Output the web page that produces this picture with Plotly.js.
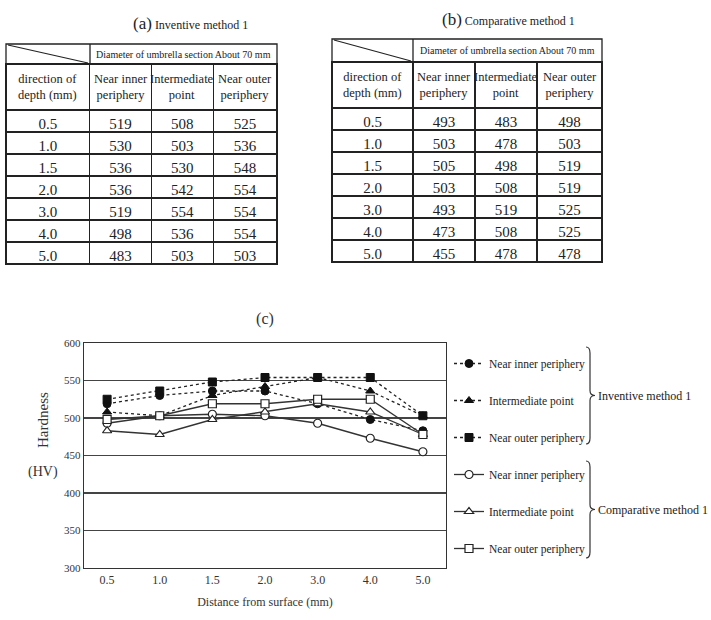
<!DOCTYPE html>
<html>
<head>
<meta charset="utf-8">
<script src="https://cdn.plot.ly/plotly-3.0.1.min.js"></script>
<style>html,body{margin:0;padding:0;background:#fff;}#chart{width:711px;height:620px;}</style>
</head>
<body>
<div id="chart"></div>
<script>
// ---------------- data ----------------
const depthLabels = ['0.5', '1.0', '1.5', '2.0', '3.0', '4.0', '5.0'];
const invInner = [519, 530, 536, 536, 519, 498, 483];
const invMid   = [508, 503, 530, 542, 554, 536, 503];
const invOuter = [525, 536, 548, 554, 554, 554, 503];
const cmpInner = [493, 503, 505, 503, 493, 473, 455];
const cmpMid   = [483, 478, 498, 508, 519, 508, 478];
const cmpOuter = [498, 503, 519, 519, 525, 525, 478];
const colHeaders = ['direction of<br>depth (mm)', 'Near inner<br>periphery', 'Intermediate<br>point', 'Near outer<br>periphery'];
const spanHeader = 'Diameter of umbrella section About 70 mm';
const seriesNames = ['Near inner periphery', 'Intermediate point', 'Near outer periphery'];
const groupNames = ['Inventive method 1', 'Comparative method 1'];
const panelLabels = ['(a)', '(b)', '(c)'];
const xTitle = 'Distance from surface (mm)';
const yTitle = 'Hardness';
const yUnit = '(HV)';

// ---------------- helpers ----------------
const W = 711, H = 620;
const px = x => x / W;
const py = y => 1 - y / H;
const SERIF = 'Liberation Serif, Times New Roman, serif';
const INK = '#222';

const shapes = [];
const annotations = [];

function makeTable(x0, x1, yTop, yBot, widths, cols) {
  // column header text drawn centred line by line as annotations
  const total = widths.reduce((a, b) => a + b, 0);
  let cx = x0;
  colHeaders.forEach((h, i) => {
    const w = widths[i] / total * (x1 - x0);
    annotations.push({xref: 'paper', yref: 'paper', x: px(cx + w / 2), y: py(yTop + 23), text: h, align: 'center',
      showarrow: false, xanchor: 'center', yanchor: 'middle', font: {family: SERIF, size: 12.5, color: INK}});
    cx += w;
  });
  return {
    type: 'table',
    domain: {x: [px(x0), px(x1)], y: [py(yBot), py(yTop)]},
    columnwidth: widths,
    header: {
      values: colHeaders.map(() => ''),
      height: 46,
      align: 'center',
      line: {color: INK, width: 1.3},
      fill: {color: 'white'},
      font: {family: SERIF, size: 12, color: INK}
    },
    cells: {
      values: [depthLabels].concat(cols),
      height: 22,
      align: 'center',
      line: {color: INK, width: 1.3},
      fill: {color: 'white'},
      font: {family: SERIF, size: 15, color: INK}
    },
    hoverinfo: 'skip'
  };
}

function spanRow(x0, xc, x1, y0, y1) {
  shapes.push({type: 'rect', xref: 'paper', yref: 'paper', x0: px(x0), x1: px(x1), y0: py(y0), y1: py(y1), line: {color: INK, width: 1.3}});
  shapes.push({type: 'line', xref: 'paper', yref: 'paper', x0: px(xc), x1: px(xc), y0: py(y0), y1: py(y1), line: {color: INK, width: 1.3}});
  shapes.push({type: 'line', xref: 'paper', yref: 'paper', x0: px(x0 + 2), x1: px(xc - 2), y0: py(y0 + 1), y1: py(y1 - 1), line: {color: INK, width: 1.2}});
  annotations.push({xref: 'paper', yref: 'paper', x: px((xc + x1) / 2), y: py((y0 + y1) / 2), text: spanHeader,
    showarrow: false, xanchor: 'center', yanchor: 'middle', font: {family: SERIF, size: 10, color: INK}});
}

function brace(x, y0, y1, label) {
  const ym = (y0 + y1) / 2, d = 4;
  const P = (a, b) => px(a) + ',' + py(b);
  const path = 'M' + P(x - 2, y0) + ' Q' + P(x + d - 2, y0) + ' ' + P(x + d - 2, y0 + 6) +
    ' L' + P(x + d - 2, ym - 5) + ' Q' + P(x + d - 2, ym) + ' ' + P(x + d + 3, ym) +
    ' Q' + P(x + d - 2, ym) + ' ' + P(x + d - 2, ym + 5) +
    ' L' + P(x + d - 2, y1 - 6) + ' Q' + P(x + d - 2, y1) + ' ' + P(x - 2, y1);
  shapes.push({type: 'path', xref: 'paper', yref: 'paper', path: path, line: {color: '#333', width: 1.2}});
  annotations.push({xref: 'paper', yref: 'paper', x: px(x + d + 4), y: py(ym), text: label, showarrow: false,
    xanchor: 'left', yanchor: 'middle', font: {family: SERIF, size: 12, color: INK}});
}

// table (a) and (b)
spanRow(6, 90, 277, 44, 64);
spanRow(332, 413, 602, 39, 62);
annotations.push({xref: 'paper', yref: 'paper', x: px(191), y: py(24), showarrow: false, xanchor: 'center', yanchor: 'middle',
  text: '<span style="font-size:17px">' + panelLabels[0] + '</span> ' + groupNames[0], font: {family: SERIF, size: 12, color: INK}});
annotations.push({xref: 'paper', yref: 'paper', x: px(508), y: py(20), showarrow: false, xanchor: 'center', yanchor: 'middle',
  text: '<span style="font-size:17px">' + panelLabels[1] + '</span> ' + groupNames[1], font: {family: SERIF, size: 12, color: INK}});

// y axis label parts
annotations.push({xref: 'paper', yref: 'paper', x: px(43), y: py(420), showarrow: false, textangle: -90, xanchor: 'center', yanchor: 'middle',
  text: yTitle, font: {family: SERIF, size: 15, color: '#333'}});
annotations.push({xref: 'paper', yref: 'paper', x: px(43), y: py(472), showarrow: false, xanchor: 'center', yanchor: 'middle',
  text: yUnit, font: {family: SERIF, size: 14, color: '#333'}});

brace(588, 347, 444, groupNames[0]);
brace(588, 461, 558, groupNames[1]);

// ---------------- traces ----------------
const invSeries = [invInner, invMid, invOuter];
const cmpSeries = [cmpInner, cmpMid, cmpOuter];
const symbols = ['circle', 'triangle-up', 'square'];
const traces = [];
invSeries.forEach((ys, i) => traces.push({
  type: 'scatter', mode: 'lines+markers', x: depthLabels, y: ys, name: seriesNames[i],
  legendgroup: 'inv' + i, xaxis: 'x', yaxis: 'y',
  line: {color: '#222', width: 1.3, dash: 'dot'},
  marker: {symbol: symbols[i], size: 8, color: '#111', line: {color: '#111', width: 1}}
}));
cmpSeries.forEach((ys, i) => traces.push({
  type: 'scatter', mode: 'lines+markers', x: depthLabels, y: ys, name: seriesNames[i],
  legendgroup: 'cmp' + i, xaxis: 'x', yaxis: 'y',
  line: {color: '#333', width: 1.3},
  marker: {symbol: symbols[i], size: 8, color: 'white', line: {color: '#222', width: 1.2}}
}));
traces.push(makeTable(6, 277, 64, 268, [84, 62, 62, 64], invSeries));
traces.push(makeTable(332, 602, 62, 270, [81, 62, 62, 65], cmpSeries));

const layout = {
  width: W, height: H,
  margin: {l: 0, r: 0, t: 0, b: 0},
  paper_bgcolor: 'white', plot_bgcolor: 'white',
  font: {family: SERIF, color: '#333'},
  title: {text: panelLabels[2], x: px(265), y: py(318), xanchor: 'center', yanchor: 'middle', font: {family: SERIF, size: 16, color: '#333'}},
  xaxis: {
    domain: [px(84), px(446)],
    type: 'category',
    showgrid: false, zeroline: false,
    showline: true, mirror: true, linecolor: '#333', linewidth: 1.3,
    ticks: '', tickfont: {family: SERIF, size: 12, color: '#333'},
    title: {text: xTitle, standoff: 12, font: {family: SERIF, size: 12, color: '#333'}}
  },
  yaxis: {
    domain: [py(568), py(343)],
    range: [300, 600], dtick: 50,
    showgrid: true, gridcolor: '#444', gridwidth: 1.3, zeroline: false,
    showline: true, mirror: true, linecolor: '#333', linewidth: 1.3,
    ticks: '', tickfont: {family: SERIF, size: 11, color: '#333'}
  },
  showlegend: true,
  legend: {
    x: px(449), y: py(349), xanchor: 'left', yanchor: 'top',
    traceorder: 'grouped', tracegroupgap: 18, itemwidth: 30,
    bgcolor: 'rgba(0,0,0,0)', font: {family: SERIF, size: 11.5, color: INK}
  },
  shapes: shapes,
  annotations: annotations
};

Plotly.newPlot('chart', traces, layout, {staticPlot: true, displayModeBar: false});
</script>
</body>
</html>
